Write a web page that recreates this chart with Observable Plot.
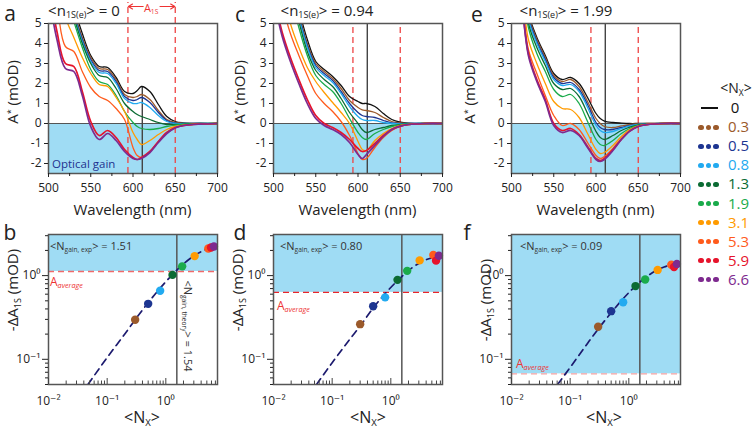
<!DOCTYPE html>
<html><head><meta charset="utf-8">
<script src="https://cdn.jsdelivr.net/npm/d3@7"></script>
<script src="https://cdn.jsdelivr.net/npm/@observablehq/plot@0.6"></script>
<style>
body{margin:0;background:#fff;}
#root{position:relative;width:754px;height:428px;background:#fff;overflow:hidden;font-family:"Open Sans","DejaVu Sans",sans-serif;}
.t{position:absolute;white-space:nowrap;line-height:1.15;}
.sub{font-size:0.6em;position:relative;top:0.3em;}
.sup{font-size:0.6em;position:relative;top:-0.5em;}
</style></head>
<body><div id="root"></div>
<script>
// ---------- data ----------
const wavelengths = [500,510,520,530,540,550,560,570,580,590,600,605,610,620,630,640,650,660,680,700];
const nxLabels = ["0","0.3","0.5","0.8","1.3","1.9","3.1","5.3","5.9","6.6"];
const nxValues = [0.3,0.5,0.8,1.3,1.9,3.1,5.3,5.9,6.6];
const seriesColors = ["#111111","#9b5a2b","#1d3591","#22aaf0","#0b6b33","#1aab4b","#ff9b00","#ff5b1c","#e6142c","#7e2a8f"];

// panel a: <n1S(e)> = 0   (rows: Nx = 0, 0.3, 0.5, 0.8, 1.3, 1.9, 3.1, 5.3, 5.9, 6.6)
const spectraA = [
 [9,8,7,5.8,4.5,3.4,2.85,2.8,2.3,1.6,1.5,1.65,1.85,1.6,0.95,0.35,0.1,0.03,0,0],
 [9,8,7,5.6,4.3,3.3,2.75,2.7,2.2,1.45,1.3,1.35,1.45,1.2,0.65,0.2,0.05,0.02,0,0],
 [9,8,7,5.5,4.2,3.2,2.65,2.6,2.1,1.35,1.15,1.2,1.3,1.05,0.55,0.15,0.02,0,0,0],
 [9,8,6.8,5.4,4.1,3.1,2.55,2.5,2.0,1.25,1.0,1.0,1.05,0.8,0.4,0.1,0,0,0,0],
 [9,8,6.7,5.3,4.0,3.0,2.4,2.3,1.75,1.0,0.6,0.45,0.35,0.2,0.05,-0.05,-0.05,-0.03,0,0],
 [9,7.8,6.5,5.1,3.8,2.7,2.1,1.95,1.4,0.6,0.05,-0.15,-0.25,-0.3,-0.25,-0.15,-0.08,-0.04,-0.01,0],
 [9,7,5.3,4.3,3.3,2.5,1.95,1.85,1.3,0.6,-0.45,-0.8,-1.05,-0.85,-0.55,-0.3,-0.15,-0.08,-0.02,0],
 [9,6,3.85,3.6,2.6,1.8,1.35,1.15,0.75,0.2,-1.2,-1.6,-1.7,-1.4,-0.9,-0.45,-0.2,-0.1,-0.03,0],
 [7,4.6,3.0,2.85,1.6,0.1,-0.6,-0.35,-0.7,-1.3,-1.7,-1.8,-1.7,-1.4,-0.9,-0.45,-0.2,-0.1,-0.03,0],
 [6.5,4.2,2.75,2.6,1.4,-0.15,-0.8,-0.5,-0.85,-1.4,-1.75,-1.8,-1.75,-1.45,-0.95,-0.5,-0.22,-0.1,-0.03,0]
];
// panel c: <n1S(e)> = 0.94
const spectraC = [
 [9,8.5,7.5,5.7,4.2,3.1,2.7,2.35,1.9,1.35,1.1,1.0,1.0,0.85,0.5,0.2,0.07,0.02,0,0],
 [9,8.4,7.3,5.5,4.0,3.0,2.6,2.25,1.75,1.15,0.8,0.68,0.65,0.55,0.3,0.1,0.03,0,0,0],
 [9,8.3,7.2,5.4,3.9,2.9,2.5,2.15,1.6,1.0,0.55,0.4,0.35,0.3,0.15,0.03,0,0,0,0],
 [9,8.2,7.0,5.3,3.8,2.8,2.4,2.05,1.5,0.85,0.35,0.2,0.15,0.15,0.05,0,-0.02,0,0,0],
 [9,8.0,6.8,5.1,3.6,2.65,2.2,1.85,1.25,0.55,0,-0.3,-0.45,-0.3,-0.2,-0.1,-0.05,-0.02,0,0],
 [9,7.8,6.5,4.8,3.4,2.4,1.95,1.6,1.0,0.25,-0.45,-0.7,-0.8,-0.5,-0.3,-0.15,-0.07,-0.03,0,0],
 [9,6.8,5.0,3.8,2.8,2.1,1.55,1.05,0.55,0.0,-0.9,-1.3,-1.35,-0.85,-0.5,-0.25,-0.1,-0.05,0,0],
 [8,6.0,4.5,3.4,2.4,1.5,1.0,0.6,0.1,-0.6,-1.5,-1.8,-1.75,-1.2,-0.7,-0.35,-0.15,-0.06,0,0],
 [6.5,4.6,3.3,2.2,1.2,0.4,0,-0.2,-0.45,-0.8,-1.25,-1.4,-1.35,-1.0,-0.6,-0.3,-0.13,-0.05,0,0],
 [6.3,4.4,3.1,2.0,1.0,0.25,-0.1,-0.3,-0.55,-0.95,-1.55,-1.75,-1.55,-1.1,-0.65,-0.3,-0.13,-0.05,0,0]
];
// panel e: <n1S(e)> = 1.99
const spectraE = [
 [9,8,5.5,4.3,3.4,2.5,2.2,2.3,2.0,1.3,0.5,0.25,0.12,0.05,0.02,0,0,0,0,0],
 [9,8,5.4,4.2,3.3,2.4,2.1,2.2,1.85,1.1,0.25,0.0,-0.15,-0.2,-0.12,-0.05,-0.02,0,0,0],
 [9,8,5.3,4.1,3.2,2.3,2.0,2.05,1.7,0.95,0.05,-0.2,-0.3,-0.3,-0.2,-0.1,-0.04,-0.02,0,0],
 [9,8,5.2,4.0,3.1,2.2,1.9,1.95,1.6,0.8,-0.1,-0.35,-0.45,-0.4,-0.25,-0.12,-0.05,-0.02,0,0],
 [9,7.9,5.0,3.8,2.9,2.0,1.7,1.75,1.35,0.5,-0.4,-0.7,-0.8,-0.6,-0.35,-0.18,-0.07,-0.03,0,0],
 [9,7.7,4.8,3.5,2.6,1.7,1.35,1.45,1.0,0.1,-0.8,-1.05,-1.1,-0.85,-0.5,-0.25,-0.1,-0.04,0,0],
 [9,7.3,4.2,3.0,2.0,1.1,0.75,0.7,0.3,-0.5,-1.3,-1.5,-1.45,-1.1,-0.65,-0.3,-0.12,-0.05,0,0],
 [9,7,3.7,2.5,1.4,0.4,-0.1,0.0,-0.3,-0.95,-1.6,-1.75,-1.65,-1.25,-0.75,-0.35,-0.14,-0.05,0,0],
 [9,6.8,3.5,2.2,1.2,0.0,-0.35,-0.25,-0.55,-1.15,-1.75,-1.85,-1.75,-1.3,-0.8,-0.38,-0.15,-0.06,0,0],
 [9,6.8,3.4,2.1,1.1,-0.1,-0.45,-0.35,-0.6,-1.2,-1.8,-1.9,-1.8,-1.35,-0.8,-0.38,-0.15,-0.06,0,0]
];
const a1sBounds = [594, 650];
const peak1S = 611;

// bottom panels: -dA1S vs <Nx>
const dA_b = [0.297,0.46,0.66,1.02,1.29,1.71,2.11,2.17,2.23];
const dA_d = [0.263,0.43,0.55,0.89,1.14,1.52,1.76,1.51,1.73];
const dA_f = [0.245,0.376,0.48,0.75,0.90,1.17,1.35,1.27,1.38];
const fitX_b = [0.047,0.1,0.2,0.3,0.5,0.8,1.3,2,3,4,5,6.6];
const fitY_b = [0.05,0.105,0.201,0.297,0.475,0.708,1.03,1.38,1.72,1.93,2.07,2.19];
const fitX_d = [0.054,0.1,0.2,0.3,0.5,0.8,1.3,2,3,4,5,6.6];
const fitY_d = [0.05,0.091,0.174,0.25,0.41,0.61,0.87,1.15,1.40,1.55,1.63,1.70];
const fitX_f = [0.061,0.1,0.2,0.3,0.5,0.8,1.3,2,3,4,5,6.6];
const fitY_f = [0.05,0.08,0.157,0.23,0.36,0.53,0.75,0.97,1.16,1.27,1.33,1.37];
const aAverage = {b: 1.12, d: 0.63, f: 0.067};
const nGainTheory = 1.54;
const nGainExp = {b: "1.51", d: "0.80", f: "0.09"};
const nTitles = ["0", "0.94", "1.99"];

// ---------- drawing ----------
const BLUE = "#9fdcf4";
const FONT = '"Open Sans","DejaVu Sans",sans-serif';
const root = document.getElementById("root");
const baseStyle = {background: "transparent", overflow: "visible", fontFamily: FONT, fontSize: "12px", color: "#222"};

function place(el, left, top) {
  el.style.position = "absolute"; el.style.left = left + "px"; el.style.top = top + "px";
  root.appendChild(el);
}
function txt(html, x, y, o = {}) {
  const d = document.createElement("div");
  d.className = "t";
  d.innerHTML = html;
  const size = o.size || 15, color = o.color || "#222";
  const tx = o.anchor === "start" ? "0" : o.anchor === "end" ? "-100%" : "-50%";
  d.style.cssText += `left:${x}px;top:${y}px;font-size:${size}px;color:${color};transform:translate(${tx},-50%) rotate(${o.rotate || 0}deg);` + (o.style || "");
  root.appendChild(d);
}

function topPanel(spec, frameLeft, opts) {
  const rows = spec.flatMap((vals, s) => vals.map((v, j) => ({wl: wavelengths[j], v, s})));
  const xt = d3.range(500, 701, 25);
  const marks = [
    Plot.rect([{lo: -2.5, hi: 0}], {x1: 500, x2: 700, y1: "lo", y2: "hi", fill: BLUE}),
    Plot.ruleY([0], {stroke: "#555", strokeWidth: 1.2}),
    Plot.ruleX(a1sBounds, {y1: -2.5, y2: opts.annot ? 6.05 : 5, stroke: "#ee4444", strokeWidth: 1.3, strokeDasharray: "6,4"}),
    Plot.ruleX([peak1S], {y1: -2.5, y2: opts.vTop, stroke: "#444", strokeWidth: 1.4}),
    Plot.line(rows, {x: "wl", y: "v", z: "s", stroke: d => seriesColors[d.s], strokeWidth: d => d.s >= 8 ? 1.7 : 1.3, curve: "catmull-rom", clip: true}),
    Plot.frame({stroke: "#555", strokeWidth: 1.5}),
    Plot.axisX({ticks: xt.filter(d => d % 50 === 0), tickSize: 4, tickPadding: 6, tickFormat: d => String(d), fontSize: 12}),
    Plot.axisX({ticks: xt.filter(d => d % 50 !== 0), tickSize: 3, tickFormat: () => ""}),
    Plot.axisY({ticks: [-2,-1,0,1,2,3,4,5], tickSize: 4, tickPadding: 3, tickFormat: d => String(d), fontSize: 12})
  ];
  if (opts.annot) {
    marks.push(Plot.arrow([{a: 612, b: 594.5}, {a: 632, b: 649.5}], {x1: "a", x2: "b", y1: 5.85, y2: 5.85, stroke: "#ee3333", strokeWidth: 1.2, headLength: 6}));
  }
  const chart = Plot.plot({
    width: 237, height: 210, marginLeft: 48, marginRight: 20, marginTop: 23, marginBottom: 37,
    style: baseStyle,
    x: {domain: [500, 700], label: null},
    y: {domain: [-2.5, 5], label: null},
    marks
  });
  place(chart, frameLeft - 48, 0.3);
  return chart;
}

const fmtLog = d => ({0.01: "10\u207B\u00B2", 0.1: "10\u207B\u00B9", 1: "10\u2070"})[d];
const minorX = [0.02,0.03,0.04,0.05,0.06,0.07,0.08,0.09,0.2,0.3,0.4,0.5,0.6,0.7,0.8,0.9,2,3,4,5,6,7];
const minorY = [0.05,0.06,0.07,0.08,0.09,0.2,0.3,0.4,0.5,0.6,0.7,0.8,0.9,2,3];

function bottomPanel(dA, fitX, fitY, avg, avgColor, frameLeft) {
  const pts = nxValues.map((x, i) => ({x, y: dA[i], c: seriesColors[i + 1]}));
  const fit = fitX.map((x, i) => ({x, y: fitY[i]}));
  const chart = Plot.plot({
    width: 237, height: 210, marginLeft: 48, marginRight: 20, marginTop: 23, marginBottom: 37,
    style: baseStyle,
    x: {type: "log", domain: [0.01, 7.6], label: null},
    y: {type: "log", domain: [0.05, 3.1], label: null},
    marks: [
      Plot.rect([{lo: avg, hi: 3.1}], {x1: 0.01, x2: 7.6, y1: "lo", y2: "hi", fill: BLUE}),
      Plot.ruleY([avg], {stroke: avgColor, strokeWidth: 1.3, strokeDasharray: "6,4"}),
      Plot.ruleX([nGainTheory], {stroke: "#555", strokeWidth: 1.5}),
      Plot.line(fit, {x: "x", y: "y", stroke: "#1c1a6e", strokeWidth: 1.7, strokeDasharray: "7,5", curve: "monotone-x", clip: true}),
      Plot.dot(pts, {x: "x", y: "y", fill: "c", r: 4.2}),
      Plot.frame({stroke: "#555", strokeWidth: 1.5}),
      Plot.tickX([0.01, 0.1, 1], {x: d => d, insetTop: 144, stroke: "#444"}),
      Plot.tickX(minorX, {x: d => d, insetTop: 146.5, stroke: "#444"}),
      Plot.axisX({ticks: [0.01, 0.1, 1], tickSize: 0, tickPadding: 12, tickFormat: fmtLog, fontSize: 12}),
      Plot.axisY({ticks: [0.1, 1], tickSize: 6, tickPadding: 2, tickFormat: fmtLog, fontSize: 12}),
      Plot.axisY({ticks: minorY, tickSize: 3, tickFormat: () => ""})
    ]
  });
  place(chart, frameLeft - 48, 211);
  return chart;
}

const cA = topPanel(spectraA, 47.7, {annot: true, vTop: 1.85});
topPanel(spectraC, 272.7, {vTop: 5});
topPanel(spectraE, 510.7, {vTop: 5});
bottomPanel(dA_b, fitX_b, fitY_b, aAverage.b, "#f06a6a", 47.7);
bottomPanel(dA_d, fitX_d, fitY_d, aAverage.d, "#e8262c", 272.7);
bottomPanel(dA_f, fitX_f, fitY_f, aAverage.f, "#f4a3a3", 510.7);

// ---------- text ----------
[["a",10,13],["c",240,14],["e",477,14],["b",10,232],["d",240,232],["f",467,232]].forEach(([l,x,y]) => txt(l, x, y, {size: 21}));
const titleX = [84, 327, 566];
nTitles.forEach((n, i) => txt(`&lt;n<span class="sub">1S(e)</span>&gt; = ${n}`, titleX[i], 10.5, {size: 15}));
[132.5, 357.5, 595.5].forEach(x => txt("Wavelength (nm)", x, 209.5, {size: 15}));
[142, 368, 604].forEach(x => txt(`&lt;N<span class="sub">X</span>&gt;`, x, 417, {size: 16}));
[[13,92],[240,92],[470,92]].forEach(([x,y]) => txt(`A<span class="sup">*</span> (mOD)`, x, y, {size: 15, rotate: -90}));
[[13,290],[238,290],[486,300]].forEach(([x,y]) => txt(`-&Delta;A<span class="sub">1S</span> (mOD)`, x, y, {size: 15, rotate: -90}));
txt("Optical gain", 52, 164, {size: 11.5, color: "#22338f", anchor: "start"});
txt(`A<span class="sub">1S</span>`, cA.scale("x").apply(622), 8, {size: 11, color: "#ee3333"});
[["b",50],["d",280],["f",520]].forEach(([k,x]) => txt(`&lt;N<span class="sub">gain, exp</span>&gt; = ${nGainExp[k]}`, x, 246, {size: 11, anchor: "start", color: "#333"}));
[["b",50,282],["d",277,306],["f",516,364]].forEach(([k,x,y]) => txt(`A<span class="sub" style="font-style:italic">average</span>`, x, y, {size: 12, anchor: "start", color: "#ee3333"}));
txt(`&lt;N<span class="sub">gain, theory</span>&gt; = 1.54`, 188, 326, {size: 11, rotate: 90, color: "#333"});

// ---------- legend ----------
txt(`&lt;N<span class="sub">X</span>&gt;`, 736, 88, {size: 14});
nxLabels.forEach((lab, i) => {
  const y = 108 + i * 19.1;
  const c = seriesColors[i];
  if (i === 0) {
    const ln = document.createElement("div");
    ln.style.cssText = `position:absolute;left:701px;top:${y - 1.2}px;width:17px;height:2.6px;background:${c};`;
    root.appendChild(ln);
  } else {
    [701, 708.5, 716].forEach(x => {
      const dot = document.createElement("div");
      dot.style.cssText = `position:absolute;left:${x - 2.6}px;top:${y - 2.6}px;width:5.2px;height:5.2px;border-radius:50%;background:${c};`;
      root.appendChild(dot);
    });
  }
  txt(lab, i === 0 ? 735 : 728, y, {size: 15, color: i === 0 ? "#111" : c, anchor: i === 0 ? "center" : "start"});
});
</script></body></html>
